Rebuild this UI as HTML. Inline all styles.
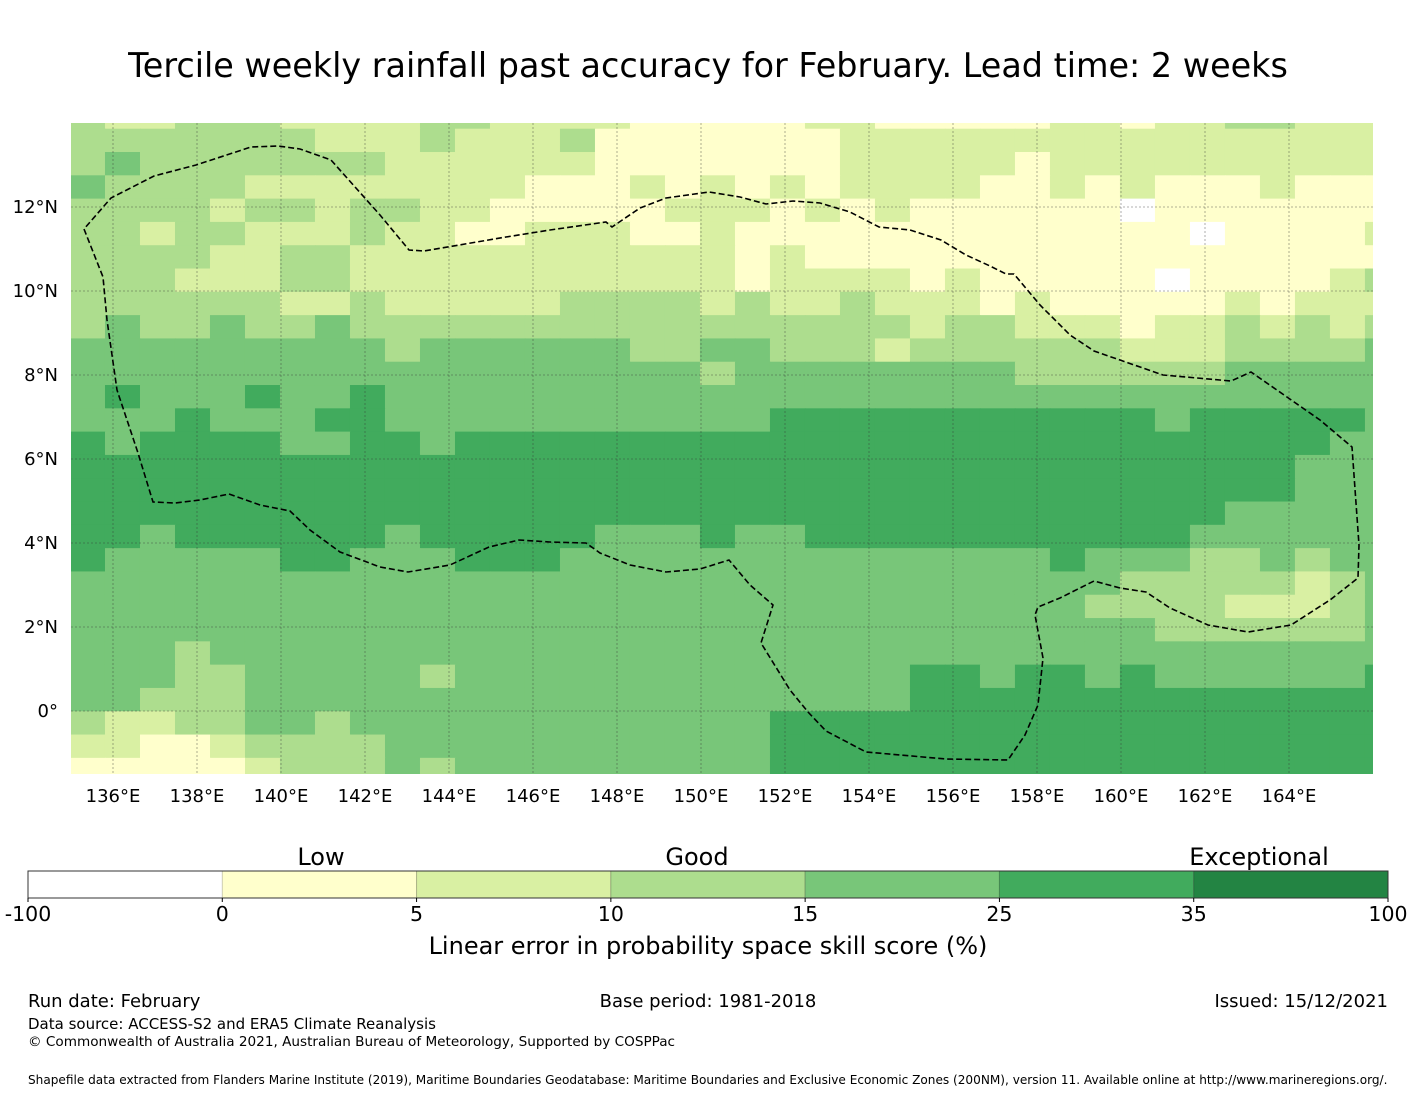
<!DOCTYPE html>
<html><head><meta charset="utf-8">
<style>
html,body{margin:0;padding:0;background:#fff;}
svg{display:block;font-family:"DejaVu Sans","Liberation Sans",sans-serif;}
</style></head>
<body>
<svg id="chart" width="1416" height="1095" viewBox="0 0 1416 1095" xmlns="http://www.w3.org/2000/svg">
<text x="708" y="77" font-size="33.4" text-anchor="middle">Tercile weekly rainfall past accuracy for February. Lead time: 2 weeks</text>
<defs><clipPath id="plotclip"><rect x="71" y="123" width="1302" height="651"/></clipPath></defs>
<g id="cells" clip-path="url(#plotclip)"></g>
<g id="grid" clip-path="url(#plotclip)"></g>
<g id="eez" clip-path="url(#plotclip)"></g>
<g id="axes"></g>
<g id="cbar"></g>
<text x="321" y="865" font-size="24" text-anchor="middle">Low</text>
<text x="697" y="865" font-size="24" text-anchor="middle">Good</text>
<text x="1259" y="865" font-size="24" text-anchor="middle">Exceptional</text>
<text x="708" y="954" font-size="24" text-anchor="middle">Linear error in probability space skill score (%)</text>
<text x="28" y="1007" font-size="18">Run date: February</text>
<text x="708" y="1007" font-size="18" text-anchor="middle">Base period: 1981-2018</text>
<text x="1388" y="1007" font-size="18" text-anchor="end">Issued: 15/12/2021</text>
<text x="28" y="1029" font-size="15">Data source: ACCESS-S2 and ERA5 Climate Reanalysis</text>
<text x="28" y="1046" font-size="13.6">© Commonwealth of Australia 2021, Australian Bureau of Meteorology, Supported by COSPPac</text>
<text x="28" y="1084" font-size="12.1">Shapefile data extracted from Flanders Marine Institute (2019), Maritime Boundaries Geodatabase: Maritime Boundaries and Exclusive Economic Zones (200NM), version 11. Available online at http://www.marineregions.org/.</text>
</svg>
<script>
// skill class per cell (0:<0, 1:0-5, 2:5-10, 3:10-15, 4:15-25, 5:25-35, 6:35-100), rows north->south; west, central, east segments
const skillWest = ["322333222233","333333322232","343333333222","433332222222","333323323322","332332223221","333322332222","333222332222","333333223222","343343343333","444444444344","444444444444","454445445444","444544455444","545555445545","555555555555","555555555555","555555555555","554555555455","544444554445","444444444444","444444444444","444444444444","444344444444","444334444434","443334444444","322334434444","221123333444","111112333434"];
const skillCentral = ["2222111112211","2231111111222","2221111111222","2111212121222","1111122212121","1222112111111","2222222121111","2222222122221","2233332322322","3333333333332","4444334433323","4444443444444","4444444444444","4444444455555","5555555555555","5555555555555","5555555555555","5555555555555","5554445445555","5544444444444","4444444444444","4444444444444","4444444444444","4444444444444","4444444444445","4444444444445","4444444455555","4444444455555","4444444455555"];
const skillEast = ["1112212233222","2222222222222","2212222222222","2112121112111","1111101111111","1111111011112","1111111111111","2111110111123","2121111121222","3322212232323","3333322233334","4433333344444","4444444444444","5555554555554","5555555555544","5555555555444","5555555555444","5555555544444","5555555444444","4445444334344","4444433333234","4444333322234","4444443333334","4444444444444","5455454444445","5555555555555","5555555555555","5555555555555","5555555555555"];
const classValues = [-50, 2.5, 7.5, 12.5, 20, 30, 60];
const cbTicks = [-100, 0, 5, 10, 15, 25, 35, 100];
const cbColors = ["#ffffff","#ffffcc","#d9f0a3","#addd8e","#78c679","#41ab5d","#238443"];
const lonTicks = [136,138,140,142,144,146,148,150,152,154,156,158,160,162,164];
const latTicks = [0,2,4,6,8,10,12];
const gridLon0 = 134.976, gridDLon = 0.8333, gridLat0 = 14.419, gridDLat = 0.5548;
// EEZ outline traced in map pixels
const eezPix = [[84,229],[103,277],[107,320],[117,390],[138,453],[153,502],[175,503],[200,500],[229,494],[260,505],[290,511],[310,530],[340,552],[380,567],[408,572],[450,565],[489,547],[519,540],[550,542],[586,543],[600,553],[630,565],[666,572],[700,569],[729,560],[750,585],[773,605],[761,643],[790,690],[808,712],[826,731],[866,752],[946,759],[1008,760],[1025,735],[1038,705],[1043,658],[1035,615],[1038,607],[1060,598],[1094,581],[1120,588],[1146,592],[1170,608],[1208,625],[1248,632],[1291,625],[1330,600],[1358,578],[1359,545],[1352,447],[1320,420],[1251,372],[1231,381],[1163,375],[1094,351],[1070,335],[1040,305],[1014,274],[1006,274],[990,266],[966,255],[941,240],[910,230],[879,227],[850,212],[820,203],[793,201],[766,204],[740,197],[709,192],[666,198],[640,208],[612,227],[606,222],[550,230],[506,237],[424,251],[409,250],[380,215],[331,160],[300,149],[278,146],[251,147],[196,165],[154,176],[111,198],[84,229]];

const NS="http://www.w3.org/2000/svg";
function mk(tag, attrs, parent){const e=document.createElementNS(NS,tag);for(const k in attrs)e.setAttribute(k,attrs[k]);parent.appendChild(e);return e;}
function xOf(lon){return 113 + (lon-136)*42;}
function yOf(lat){return 711 - lat*42;}
function colorFor(v){ if(v<0) return cbColors[0]; for(let i=1;i<cbTicks.length-1;i++){ if(v<cbTicks[i+1]) return cbColors[i]; } return cbColors[6]; }

const cells=document.getElementById('cells');
skillWest.forEach((w,r)=>{
  const row=w+skillCentral[r]+skillEast[r];
  for(let c=0;c<row.length;c++){
    const v=classValues[+row[c]];
    const x0=xOf(gridLon0+c*gridDLon), x1=xOf(gridLon0+(c+1)*gridDLon);
    const y0=yOf(gridLat0-r*gridDLat), y1=yOf(gridLat0-(r+1)*gridDLat);
    const el=mk('rect',{x:x0.toFixed(2),y:y0.toFixed(2),width:(x1-x0+0.6).toFixed(2),height:(y1-y0+0.6).toFixed(2),fill:colorFor(v)},cells);
    
    
  }
});

const grid=document.getElementById('grid');
lonTicks.forEach(l=>{const el=mk('line',{x1:xOf(l),x2:xOf(l),y1:123,y2:774,stroke:'#333','stroke-opacity':0.5,'stroke-width':0.8,'stroke-dasharray':'2,2'},grid);

});
latTicks.forEach(l=>{const el=mk('line',{x1:71,x2:1373,y1:yOf(l),y2:yOf(l),stroke:'#333','stroke-opacity':0.5,'stroke-width':0.8,'stroke-dasharray':'2,2'},grid);

});

const eez=document.getElementById('eez');
const pl=mk('polyline',{points:eezPix.map(p=>p[0]+','+p[1]).join(' '),fill:'none',stroke:'#000','stroke-width':1.6,'stroke-dasharray':'6,3'},eez);



const axes=document.getElementById('axes');
lonTicks.forEach(l=>{const t=mk('text',{x:xOf(l),y:802,'font-size':18,'text-anchor':'middle'},axes);t.textContent=l+'°E';

});
latTicks.forEach(l=>{const t=mk('text',{x:58,y:yOf(l)+6,'font-size':18,'text-anchor':'end'},axes);t.textContent=l===0?'0°':l+'°N';

});

const cbar=document.getElementById('cbar');
const cbX0=28,cbX1=1388,cbY=871,cbH=27,segW=(cbX1-cbX0)/(cbTicks.length-1);
for(let i=0;i<cbTicks.length-1;i++){
  const r=mk('rect',{x:cbX0+i*segW,y:cbY,width:segW,height:cbH,fill:cbColors[i],stroke:i>0?'rgba(0,0,0,0.2)':'none','stroke-width':1},cbar);
  
  
}
const ob=mk('rect',{x:cbX0,y:cbY,width:cbX1-cbX0,height:cbH,fill:'none',stroke:'#333','stroke-width':1},cbar);


cbTicks.forEach((v,i)=>{
  const x=cbX0+i*segW;
  const tk=mk('line',{x1:x,x2:x,y1:cbY+cbH,y2:cbY+cbH+4,stroke:'#000'},cbar);
  
  
  const t=mk('text',{x:x,y:921,'font-size':20.5,'text-anchor':'middle'},cbar);t.textContent=v;
  
  
});
</script>
</body></html>
